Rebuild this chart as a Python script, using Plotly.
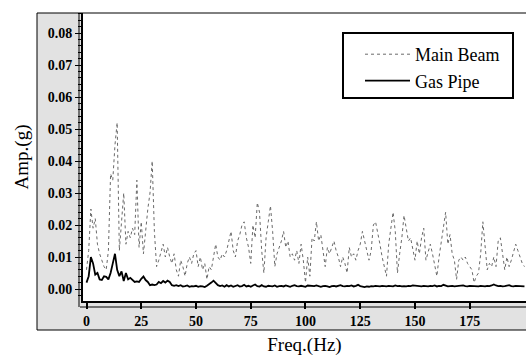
import plotly.graph_objects as go

freq = list(range(0, 201))

main_beam = [
    0.006, 0.012, 0.025, 0.019, 0.022, 0.014, 0.011, 0.009, 0.007, 0.006,
    0.012, 0.036, 0.034, 0.045, 0.052, 0.012, 0.020, 0.030, 0.014, 0.018,
    0.016, 0.019, 0.017, 0.034, 0.013, 0.021, 0.011, 0.019, 0.025, 0.030,
    0.040, 0.018, 0.007, 0.009, 0.012, 0.014, 0.010, 0.013, 0.010, 0.008,
    0.011, 0.006, 0.004, 0.009, 0.007, 0.004, 0.008, 0.010, 0.008, 0.011,
    0.012, 0.007, 0.010, 0.006, 0.008, 0.003, 0.007, 0.006, 0.010, 0.014,
    0.010, 0.009, 0.011, 0.010, 0.012, 0.015, 0.018, 0.012, 0.010, 0.015,
    0.017, 0.020, 0.021, 0.016, 0.013, 0.008, 0.020, 0.016, 0.027, 0.024,
    0.012, 0.005, 0.016, 0.021, 0.026, 0.018, 0.007, 0.011, 0.013, 0.015,
    0.018, 0.013, 0.015, 0.010, 0.011, 0.009, 0.012, 0.008, 0.014, 0.009,
    0.002, 0.010, 0.004, 0.016, 0.015, 0.021, 0.015, 0.017, 0.012, 0.007,
    0.013, 0.011, 0.013, 0.015, 0.012, 0.010, 0.007, 0.010, 0.008, 0.005,
    0.013, 0.010, 0.011, 0.009, 0.012, 0.014, 0.018, 0.015, 0.011, 0.009,
    0.012, 0.020, 0.021, 0.018, 0.014, 0.010, 0.007, 0.004, 0.014, 0.019,
    0.024, 0.018, 0.005, 0.011, 0.016, 0.023, 0.019, 0.015, 0.016, 0.012,
    0.009, 0.015, 0.011, 0.016, 0.019, 0.009, 0.012, 0.014, 0.011, 0.008,
    0.004, 0.010, 0.015, 0.020, 0.024, 0.014, 0.017, 0.011, 0.009, 0.003,
    0.009, 0.010, 0.009, 0.010, 0.008, 0.007, 0.006, 0.002, 0.004, 0.005,
    0.011, 0.021, 0.014, 0.006, 0.008, 0.007, 0.010, 0.007, 0.015, 0.016,
    0.011, 0.006, 0.010, 0.007, 0.009, 0.012, 0.014, 0.012, 0.010, 0.008,
    0.007,
]

gas_pipe = [
    0.0020, 0.0040, 0.0100, 0.0080, 0.0045, 0.0050, 0.0030, 0.0028, 0.0040, 0.0038,
    0.0030, 0.0050, 0.0080, 0.0110, 0.0060, 0.0040, 0.0055, 0.0025, 0.0050, 0.0030,
    0.0035, 0.0028, 0.0022, 0.0024, 0.0022, 0.0032, 0.0039, 0.0028, 0.0022, 0.0012,
    0.0014, 0.0012, 0.0014, 0.0022, 0.0018, 0.0025, 0.0020, 0.0026, 0.0022, 0.0012,
    0.0010, 0.0012, 0.0009, 0.0012, 0.0008, 0.0009, 0.0011, 0.0007, 0.0009, 0.0008,
    0.0010, 0.0007, 0.0009, 0.0008, 0.0006, 0.0010, 0.0014, 0.0020, 0.0026, 0.0018,
    0.0012, 0.0009, 0.0011, 0.0007, 0.0012, 0.0008, 0.0011, 0.0007, 0.0010, 0.0012,
    0.0008, 0.0009, 0.0013, 0.0008, 0.0010, 0.0007, 0.0011, 0.0014, 0.0009, 0.0008,
    0.0012, 0.0008, 0.0007, 0.0010, 0.0009, 0.0008, 0.0011, 0.0007, 0.0009, 0.0010,
    0.0008, 0.0011, 0.0009, 0.0007, 0.0010, 0.0012, 0.0009, 0.0008, 0.0010, 0.0009,
    0.0007, 0.0011, 0.0010, 0.0008, 0.0009, 0.0011, 0.0008, 0.0007, 0.0009, 0.0010,
    0.0008, 0.0006, 0.0009, 0.0010, 0.0008, 0.0009, 0.0012, 0.0009, 0.0008, 0.0010,
    0.0009, 0.0011, 0.0008, 0.0010, 0.0013, 0.0009, 0.0007, 0.0006, 0.0008, 0.0007,
    0.0009, 0.0008, 0.0010, 0.0009, 0.0008, 0.0010, 0.0009, 0.0008, 0.0010, 0.0009,
    0.0008, 0.0011, 0.0009, 0.0010, 0.0008, 0.0009, 0.0008, 0.0010, 0.0009, 0.0011,
    0.0010, 0.0008, 0.0009, 0.0008, 0.0010, 0.0009, 0.0008, 0.0010, 0.0009, 0.0011,
    0.0008, 0.0010, 0.0009, 0.0013, 0.0010, 0.0008, 0.0009, 0.0010, 0.0008, 0.0009,
    0.0010, 0.0009, 0.0011, 0.0009, 0.0008, 0.0010, 0.0009, 0.0008, 0.0009, 0.0008,
    0.0010, 0.0009, 0.0008, 0.0010, 0.0009, 0.0011, 0.0014, 0.0011, 0.0009, 0.0010,
    0.0008, 0.0009, 0.0011, 0.0012, 0.0009, 0.0008, 0.0010, 0.0009, 0.0008, 0.0007,
    0.0008,
]

x_ticks = [0, 25, 50, 75, 100, 125, 150, 175]
y_ticks = [0.00, 0.01, 0.02, 0.03, 0.04, 0.05, 0.06, 0.07, 0.08]
y_tick_text = ["%.2f" % v for v in y_ticks]

SERIF = "Liberation Serif"

fig = go.Figure()
fig.add_trace(go.Scatter(
    x=freq, y=main_beam, name="Main Beam", mode="lines",
    line=dict(color="#6a6a6a", width=1, dash="dot"),
))
fig.add_trace(go.Scatter(
    x=freq, y=gas_pipe, name="Gas Pipe", mode="lines",
    line=dict(color="#000000", width=1.8),
))

W, H = 526, 356
L, R, T, B = 83, 0, 13, 55
pw, ph = W - L - R, H - T - B


def px(xp):
    return (xp - L) / pw


def py(yp):
    return (H - B - yp) / ph


band = "#e2e2e2"
shapes = [
    dict(type="rect", xref="paper", yref="paper", x0=px(37), x1=px(83), y0=py(330), y1=py(13),
         fillcolor=band, line=dict(width=0), layer="below"),
    dict(type="rect", xref="paper", yref="paper", x0=px(83), x1=px(526), y0=py(330), y1=py(301),
         fillcolor=band, line=dict(width=0), layer="below"),
    dict(type="rect", xref="paper", yref="paper", x0=px(37), x1=px(527), y0=py(330), y1=py(13),
         fillcolor="rgba(0,0,0,0)", line=dict(color="black", width=1)),
    dict(type="line", xref="paper", yref="paper", x0=px(80), x1=px(527), y0=py(307), y1=py(307),
         line=dict(color="black", width=1)),
    dict(type="line", xref="paper", yref="paper", x0=px(79), x1=px(79), y0=py(307), y1=py(13),
         line=dict(color="black", width=1)),
    dict(type="rect", xref="paper", yref="paper", x0=px(343), x1=px(513), y0=py(98), y1=py(33),
         fillcolor="white", line=dict(color="black", width=2)),
]

fig.update_layout(
    width=W, height=H,
    margin=dict(l=L, r=R, t=T, b=B, pad=0),
    paper_bgcolor="white", plot_bgcolor="white",
    font=dict(family=SERIF, color="black"),
    showlegend=True,
    legend=dict(
        x=px(360), y=py(36), xanchor="left", yanchor="top",
        bgcolor="rgba(0,0,0,0)", borderwidth=0,
        font=dict(family=SERIF, size=18, color="black"),
        itemwidth=45,
    ),
    shapes=shapes,
    xaxis=dict(
        range=[-1.6, 200.7], tickvals=x_ticks, ticktext=[str(v) for v in x_ticks],
        showgrid=False, zeroline=False, showline=True, linecolor="black", linewidth=2,
        ticks="outside", ticklen=6, tickwidth=2, tickcolor="black",
        tickfont=dict(family=SERIF, size=14, weight="bold"),
        title=dict(text="Freq.(Hz)", font=dict(family=SERIF, size=19), standoff=14),
    ),
    yaxis=dict(
        range=[-0.00375, 0.08625], tickvals=y_ticks, ticktext=y_tick_text,
        showgrid=False, zeroline=False, showline=True, linecolor="black", linewidth=2,
        ticks="outside", ticklen=6, tickwidth=1, tickcolor="black",
        tickfont=dict(family=SERIF, size=14, weight="bold"),
        minor=dict(dtick=0.002, ticks="outside", ticklen=3, tickcolor="black"),
        title=dict(text="Amp.(g)", font=dict(family=SERIF, size=19), standoff=14),
    ),
)

fig.write_html("out.html")
